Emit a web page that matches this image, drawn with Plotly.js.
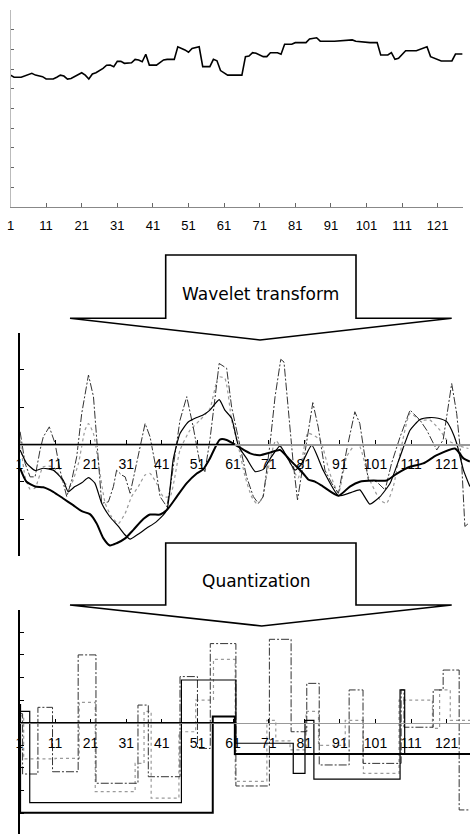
<!DOCTYPE html>
<html><head><meta charset="utf-8">
<script src="https://cdn.plot.ly/plotly-3.0.1.min.js"></script>
<style>html,body{margin:0;padding:0;background:#fff;overflow:hidden}#chart{width:470px;height:834px}</style>
</head><body><div id="chart"></div>
<script>
// ---------- data ----------
var tickVals = [1,11,21,31,41,51,61,71,81,91,101,111,121];
var tickText = ['1','11','21','31','41','51','61','71','81','91','101','111','121'];

// original series (top panel)
var topX = [1,2,4,6,7,8,10,11,13,14,15,16,17,18,20,21,22,23,24,25,27,28,29,30,31,32,33,35,36,37,38,39,40,42,44,45,47,48,50,51,52,54,55,57,58,59,60,62,66,67,68,69,70,72,73,74,76,77,78,80,81,84,85,87,88,92,97,98,102,104,105,107,108,109,110,112,115,117,118,119,121,122,125,126,128];
var topY = [6.69,6.58,6.58,6.69,6.78,6.69,6.61,6.49,6.49,6.58,6.69,6.64,6.49,6.52,6.69,6.81,6.69,6.49,6.75,6.81,7.03,7.19,7.2,7.12,7.39,7.39,7.29,7.32,7.49,7.46,7.37,7.75,7.2,7.2,7.46,7.49,7.49,8.13,7.97,7.85,8.05,8.13,7.12,7.12,7.49,7.42,6.92,6.69,6.69,7.63,7.66,7.83,7.8,7.63,7.63,7.83,7.83,7.75,8.26,8.26,8.34,8.34,8.53,8.59,8.42,8.41,8.48,8.41,8.34,8.34,7.71,7.71,7.83,7.49,7.54,7.93,7.93,8.08,8.13,7.63,7.49,7.41,7.41,7.76,7.76];

// wavelet components (middle panel)
var wAx = [1.2,3,5.4,7.7,10.5,13.3,16.1,18.5,20.8,22.7,24.6,26.4,28.3,30.7,33,35.8,37.7,40.5,42.4,45.2,48,50.8,52.6,54.5,57.3,59.2,62.5,65.8,68.6,71.4,74.2,77,78.9,80.7,82.1,84,86.3,90.6,93.8,96.6,100.4,104.1,106.9,110.7,114.4,118.2,123.3,125.7,127.5];
var wAy = [-0.64,-1.0,-1.13,-1.15,-1.27,-1.45,-1.63,-1.79,-1.87,-2.12,-2.52,-2.71,-2.65,-2.52,-2.29,-2.0,-1.88,-1.88,-1.76,-1.40,-1.04,-0.78,-0.67,-0.375,0.13,0.12,-0.06,-0.24,-0.29,-0.22,-0.15,-0.42,-0.6,-0.78,-0.94,-1.0,-1.13,-1.375,-1.13,-1.0,-0.97,-0.97,-0.79,-0.6,-0.51,-0.29,-0.11,-0.375,-0.46];

var wBx = [1.2,3.0,5.4,7.7,10.5,13.3,14.7,16.6,18.5,20.4,22.2,24.1,26.4,28.8,30.7,32.1,34,36.7,39.5,42.4,44.2,46.1,48.4,50.8,52.6,54.5,57.1,58.7,60.6,62.5,64.8,67.2,69.5,71.8,74.2,76.1,78.4,80.3,83.1,86.3,90.6,93.8,96.6,99.4,102.3,105.1,107.9,110.7,113.5,116.3,118.6,121,122.4,123.8,125.7,127.5];
var wBy = [-0.15,-0.5,-0.7,-0.64,-0.69,-0.96,-1.27,-1.13,-1.03,-0.89,-1.04,-1.58,-1.94,-2.2,-2.43,-2.54,-2.43,-2.25,-2.07,-1.76,-0.4,0.29,0.6,0.72,0.79,0.92,1.2,0.92,0.7,-0.04,-0.375,-0.73,-0.67,-0.33,-0.04,-0.33,-0.69,-0.51,-0.02,-0.69,-1.375,-1.3,-1.22,-1.6,-1.4,-1.04,-0.33,0.38,0.67,0.72,0.7,0.61,0.38,0.03,-0.69,-1.13];

var wCx = [1.2,2.6,4,5.4,7.7,10.5,13.3,15.2,17.6,19.4,20.4,21.8,23.2,25.1,26.9,28.8,30.7,32.5,34.4,36.3,37.7,39.5,41.4,43.3,46.1,48.9,51.7,54.5,56.9,58.7,60.6,62.5,64.4,66.2,67.6,69,70.4,73,77,79.3,82,85.4,88.2,90.6,92.9,95.2,96.6,99,102.3,104.1,106,107.9,110.7,113.5,116.3,119.1,121,122.9,125.2,127.1];
var wCy = [0.12,-0.87,-1.2,-1.17,-0.6,-0.6,-1.0,-1.13,-0.5,0.38,0.56,0.29,-0.5,-1.58,-1.94,-2.12,-1.85,-1.4,-1.13,-0.82,-0.78,-1.04,-1.4,-1.4,-0.15,0.38,0.65,0.96,1.81,1.77,0.65,-0.06,-0.87,-1.4,-1.58,-1.49,-0.87,0.1,-0.5,-0.9,0.3,0.12,-0.78,-1.31,-0.33,-0.02,-0.06,-0.87,-1.49,-1.58,-1.13,-0.24,0.83,0.65,0.65,0.38,0.12,0.03,-0.06,-0.11];

var wDx = [1.2,2.6,4,5.4,6.8,7.7,9.4,11,12.4,14.3,15.7,17.1,18.5,20.4,21.8,22.9,24.1,26,27.4,28.3,29.7,30.7,32.1,33.5,35.3,36.3,37.7,39.1,40.5,42.4,43.3,46.1,48,49.8,51.7,53.1,54.5,57.1,59.2,60.6,63,64.8,66.7,68.1,69.5,71.4,72.8,74.4,75.3,76.5,77.9,79.1,80.7,82.1,83.4,84.9,86.8,88.7,90.6,92.9,95.2,96.6,99,101.3,103.7,105.5,107.9,110.7,113.5,115.4,118.2,120,122.4,123.8,125.2,126.1,127.1];
var wDy = [0.34,-0.51,-0.87,-0.87,-0.15,0.2,0.47,0.03,-0.69,-1.4,-0.96,-0.33,0.83,1.86,1.28,-0.06,-1.58,-1.54,-1.13,-0.69,-0.82,-0.87,-1.31,-0.69,0.12,0.56,0.2,-0.51,-1.4,-1.67,-1.2,0.65,1.28,0.47,-0.51,-0.73,0.12,2.17,2.04,1.0,-0.06,-0.87,-1.4,-1.58,-1.4,0.03,1.28,2.28,2.21,1.0,-0.51,-1.49,-0.51,0.38,1.12,0.47,-0.69,-1.04,-1.31,-0.15,0.875,0.56,-0.96,-1.0,-1.22,-0.51,0.2,0.92,0.65,0.38,-0.15,0.12,1.63,0.83,-0.51,-2.2,-2.12];

// quantized components (bottom panel), step starts and levels
var qAx = [1,1.2,55.3,61.5,128];
var qAy = [0.78,-3.98,0.27,-1.39,-1.39];
var qBx = [1,3.9,46.5,61.8,77.9,81.2,83.7,107.9,109.2,128];
var qBy = [0.5,-3.54,1.89,-0.91,-2.24,0.1,-2.5,1.45,-1.39,-1.39];
var qCx = [1,2.2,11,17.8,22.3,33.5,36,38,45.8,50.5,55.5,61.6,70.5,73,77,81.5,85,92.5,97.6,107.6,117,119,122,128];
var qCy = [0.3,-1.6,-1.58,0.9,-3.05,-1.8,0.5,-3.34,-0.4,1.0,2.8,-2.6,0.1,-0.8,-1.2,0.5,-1.0,0.1,-2.24,1.0,-0.25,1.45,0.1,0.1];
var qDx = [1,1.9,6.2,10.3,17.5,22.5,34.3,37.2,46.1,51,54.6,61.8,71.2,77.3,81.7,85.2,93.6,97.5,108.2,109,117.2,120,124.5,128];
var qDy = [0.4,-2.27,0.68,-2.17,3.0,-2.68,0.78,-2.39,2.04,-1.14,3.5,-2.8,3.69,-0.4,1.74,-1.87,1.45,-1.8,1.45,-0.2,1.45,2.33,-3.86,-3.86];

var darkAxisEnd = 61.5; // zero line drawn dark up to here

// ---------- layout helpers ----------
var W = 470, H = 834;
function fx(p){ return p / W; }
function fy(p){ return 1 - p / H; }
var FONT = 'Liberation Sans, Arial, sans-serif';

var topDomX = [fx(10.5), fx(462.6)], topDomY = [fy(206.7), fy(10)];
var midDomX = [fx(19.4), 1], midDomY = [fy(556.3), fy(332.5)];
var botDomX = [fx(19.4), 1], botDomY = [0, fy(609.7)];
var midRange = [-3, 3], botRange = [-4.925, 5], xRangeLow = [1, 127.54];
function zeroPos(dom, r){ return dom[0] + (0 - r[0]) / (r[1] - r[0]) * (dom[1] - dom[0]); }

var traces = [
  {x: topX, y: topY, xaxis:'x', yaxis:'y', mode:'lines', line:{color:'#000', width:1.6}},

  {x: wCx, y: wCy, xaxis:'x2', yaxis:'y2', mode:'lines', line:{color:'#9a9a9a', width:1.2, dash:'dot', shape:'spline', smoothing:0.5}},
  {x: wDx, y: wDy, xaxis:'x2', yaxis:'y2', mode:'lines', line:{color:'#333', width:1, dash:'8px,2px,2px,2px'}},
  {x: wBx, y: wBy, xaxis:'x2', yaxis:'y2', mode:'lines', line:{color:'#000', width:1.2, shape:'spline', smoothing:0.5}},
  {x: wAx, y: wAy, xaxis:'x2', yaxis:'y2', mode:'lines', line:{color:'#000', width:2, shape:'spline', smoothing:0.6}},

  {x: qCx, y: qCy, xaxis:'x3', yaxis:'y3', mode:'lines', line:{color:'#9a9a9a', width:1.2, dash:'dot', shape:'hv'}},
  {x: qDx, y: qDy, xaxis:'x3', yaxis:'y3', mode:'lines', line:{color:'#333', width:1, dash:'8px,2px,2px,2px', shape:'hv'}},
  {x: qBx, y: qBy, xaxis:'x3', yaxis:'y3', mode:'lines', line:{color:'#000', width:1.2, shape:'hv'}},
  {x: qAx, y: qAy, xaxis:'x3', yaxis:'y3', mode:'lines', line:{color:'#000', width:2, shape:'hv'}}
];

function xAxisLow(dom, yDom, yr){
  return {domain: dom, range: xRangeLow, anchor:'free', position: zeroPos(yDom, yr),
    showline:true, linecolor:'#999', linewidth:1.2, ticks:'inside', ticklen:4, tickcolor:'#000',
    tickvals: tickVals, ticktext: tickText, ticklabelstandoff: 7,
    tickfont:{family:FONT, size:14, color:'#000'}, showgrid:false, zeroline:false, fixedrange:true};
}
function yAxisLow(dom, r, vals){
  return {domain: dom, range: r, anchor:'free', position: fx(18.3), showline:true, linecolor:'#000', linewidth:1.2,
    ticks:'inside', ticklen:4, tickcolor:'#000', tickvals: vals, showticklabels:false,
    showgrid:false, zeroline:false, fixedrange:true};
}

function arrowPath(top, wing, tip, tipX){
  var pts = [[70,wing],[165.7,wing],[165.7,top],[356,top],[356,wing],[451.7,wing],[tipX,tip]];
  return 'M' + pts.map(function(p){ return fx(p[0]) + ',' + fy(p[1]); }).join(' L') + ' Z';
}

var layout = {
  width: W, height: H, autosize:false, margin:{l:0,r:0,t:0,b:0},
  paper_bgcolor:'#fff', plot_bgcolor:'rgba(0,0,0,0)', showlegend:false,
  font:{family:FONT, color:'#000'},
  xaxis: {domain: topDomX, range:[1,128], anchor:'y', showline:true, linecolor:'#888', linewidth:1,
    ticks:'inside', ticklen:4, tickcolor:'#666', tickvals: tickVals, ticktext: tickText, ticklabelstandoff:7,
    tickfont:{family:FONT, size:13, color:'#000'}, showgrid:false, zeroline:false, fixedrange:true},
  yaxis: {domain: topDomY, range:[0,10], anchor:'x', showline:true, linecolor:'#bbb', linewidth:1,
    ticks:'inside', ticklen:3, tickcolor:'#666', tickvals:[0,1,2,3,4,5,6,7,8,9,10], showticklabels:false,
    showgrid:false, zeroline:false, fixedrange:true},
  xaxis2: xAxisLow(midDomX, midDomY, midRange),
  yaxis2: yAxisLow(midDomY, midRange, [-3,-2,-1,0,1,2,3]),
  xaxis3: xAxisLow(botDomX, botDomY, botRange),
  yaxis3: yAxisLow(botDomY, botRange, [-5,-4,-3,-2,-1,0,1,2,3,4,5]),
  shapes: [
    {type:'line', xref:'x2', yref:'y2', x0:1, x1:darkAxisEnd, y0:0, y1:0, line:{color:'#000', width:1.2}, layer:'above'},
    {type:'line', xref:'x3', yref:'y3', x0:1, x1:darkAxisEnd, y0:0, y1:0, line:{color:'#000', width:1.2}, layer:'above'},
    {type:'path', xref:'paper', yref:'paper', path: arrowPath(255, 318.3, 340, 260), line:{color:'#000', width:1.6}, fillcolor:'rgba(0,0,0,0)'},
    {type:'path', xref:'paper', yref:'paper', path: arrowPath(543, 605, 626, 261.7), line:{color:'#000', width:1.6}, fillcolor:'rgba(0,0,0,0)'}
  ],
  annotations: [
    {text:'Wavelet transform', xref:'paper', yref:'paper', x: fx(260.7), y: fy(294.3), xanchor:'center', yanchor:'middle',
      showarrow:false, font:{family:'DejaVu Sans, sans-serif', size:17, color:'#000'}},
    {text:'Quantization', xref:'paper', yref:'paper', x: fx(256.7), y: fy(580.7), xanchor:'center', yanchor:'middle',
      showarrow:false, font:{family:'DejaVu Sans, sans-serif', size:17, color:'#000'}}
  ]
};

Plotly.newPlot('chart', traces, layout, {staticPlot:true, displayModeBar:false});
</script></body></html>
